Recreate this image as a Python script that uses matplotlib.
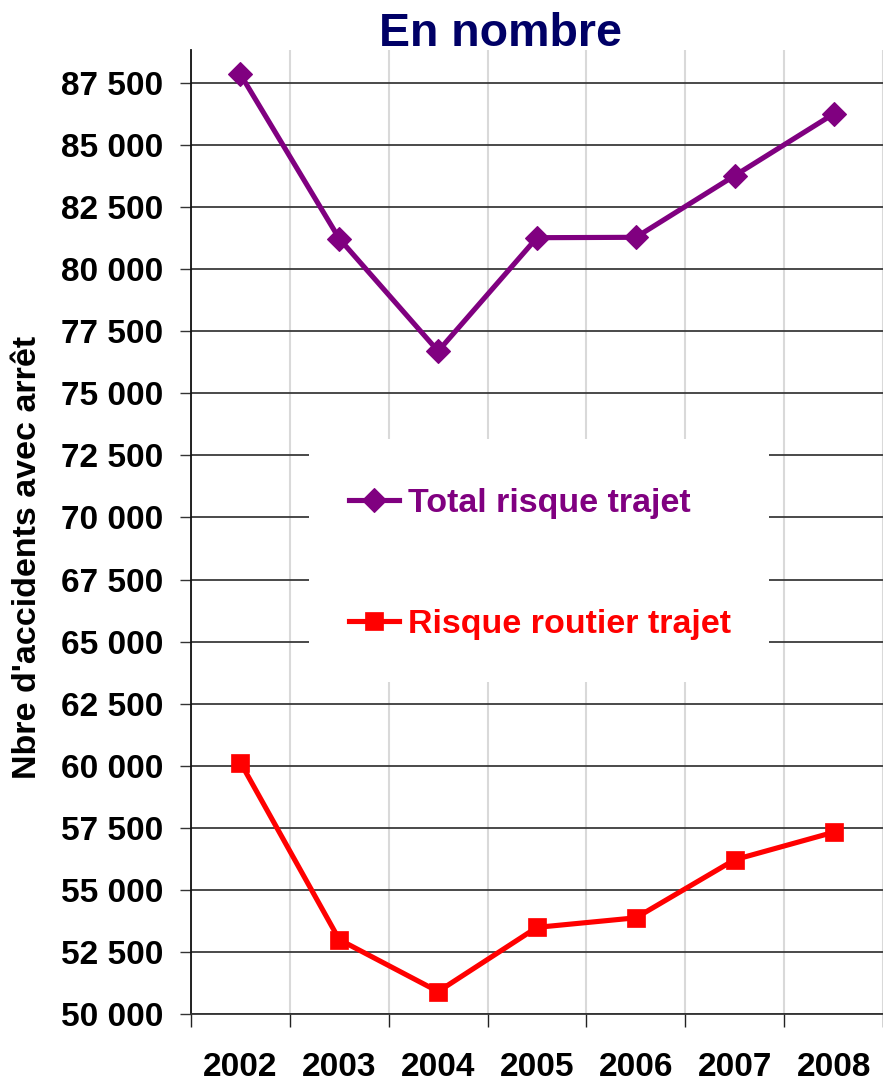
import matplotlib
matplotlib.use("Agg")
import matplotlib.pyplot as plt
from matplotlib.patches import Rectangle
from matplotlib.ticker import FixedLocator, FuncFormatter

plt.rcParams['font.family'] = ['Liberation Sans', 'DejaVu Sans']
plt.rcParams['font.weight'] = 'bold'

years = ["2002", "2003", "2004", "2005", "2006", "2007", "2008"]
total_risque = [87850, 81230, 76700, 81270, 81285, 83770, 86255]
risque_routier = [60130, 52995, 50905, 53490, 53875, 56215, 57320]
series_labels = ["Total risque trajet", "Risque routier trajet"]
y_ticks = list(range(50000, 87501, 2500))

W, H = 883, 1081
fig = plt.figure(figsize=(W / 100, H / 100), dpi=100)
ax_left, ax_right, ax_top, ax_bot = 191, 883, 50, 1014
ax = fig.add_axes([ax_left / W, (H - ax_bot) / H, (ax_right - ax_left) / W, (ax_bot - ax_top) / H])

x = list(range(len(years)))
px_per_cat = 99.83
ax.set_xlim(-0.5, -0.5 + (ax_right - ax_left) / px_per_cat)
ax.set_ylim(50000, 88830)

ax.set_axisbelow(True)
purple = "#800080"
red = "#FF0000"
l1, = ax.plot(x, total_risque, color=purple, lw=3.7, marker='D', markersize=12,
              markeredgewidth=0.8, markeredgecolor=purple, zorder=4, label=series_labels[0])
l2, = ax.plot(x, risque_routier, color=red, lw=3.7, marker='s', markersize=13.5,
              markeredgewidth=0.5, markeredgecolor=red, zorder=4, label=series_labels[1])

# y axis
ax.yaxis.set_major_locator(FixedLocator(y_ticks))
ax.yaxis.set_major_formatter(FuncFormatter(lambda v, p: f"{int(v):,}".replace(",", " ")))
ax.tick_params(axis='y', which='major', length=8, width=1.0, color='#333333',
               direction='out', pad=12, labelsize=24)
ax.grid(axis='y', which='major', color='#3a3a3a', linewidth=1.3)

# x axis: labels at centers, ticks at boundaries
ax.set_xticks(x)
ax.set_xticklabels(years)
ax.set_xticks([i - 0.5 for i in range(len(years) + 1)], minor=True)
ax.tick_params(axis='x', which='major', length=0, pad=27, labelsize=24)
ax.tick_params(axis='x', which='minor', length=9, width=1.0, color='#222222', direction='out')
ax.grid(axis='x', which='minor', color='#d9d9d9', linewidth=1.5)
ax.grid(axis='x', which='major', visible=False)
for t in ax.get_xticklabels() + ax.get_yticklabels():
    t.set_fontweight('bold')

for s in ['top', 'right']:
    ax.spines[s].set_visible(False)
ax.spines['left'].set_color('#111111')
ax.spines['left'].set_linewidth(1.3)
ax.spines['bottom'].set_color('#333333')
ax.spines['bottom'].set_linewidth(1.3)

# legend background
ax_w, ax_h = ax_right - ax_left, ax_bot - ax_top
rx0, rx1, ry_top, ry_bot = 309, 769, 439, 682
ax.add_patch(Rectangle(((rx0 - ax_left) / ax_w, (ax_bot - ry_bot) / ax_h),
                       (rx1 - rx0) / ax_w, (ry_bot - ry_top) / ax_h,
                       transform=ax.transAxes, facecolor='white', edgecolor='none', zorder=1))

leg = ax.legend(handles=[l1, l2], loc='center left',
                bbox_to_anchor=((349 - ax_left) / ax_w, (ax_bot - 564) / ax_h),
                frameon=False, borderpad=0, borderaxespad=0, numpoints=1,
                handlelength=1.47, handletextpad=0.26, labelspacing=2.66,
                prop={'size': 24.5, 'weight': 'bold'})
for txt, c in zip(leg.get_texts(), [purple, red]):
    txt.set_color(c)

fig.text(500.5 / W, 1 - 46 / H, "En nombre", ha='center', va='baseline',
         fontsize=33.5, fontweight='bold', color='#000066')
fig.text(28 / W, 1 - 557 / H, "Nbre d'accidents avec arrêt", rotation=90,
         ha='center', va='center', fontsize=24.5, fontweight='bold', color='black')

fig.savefig("out.png", dpi=100)
